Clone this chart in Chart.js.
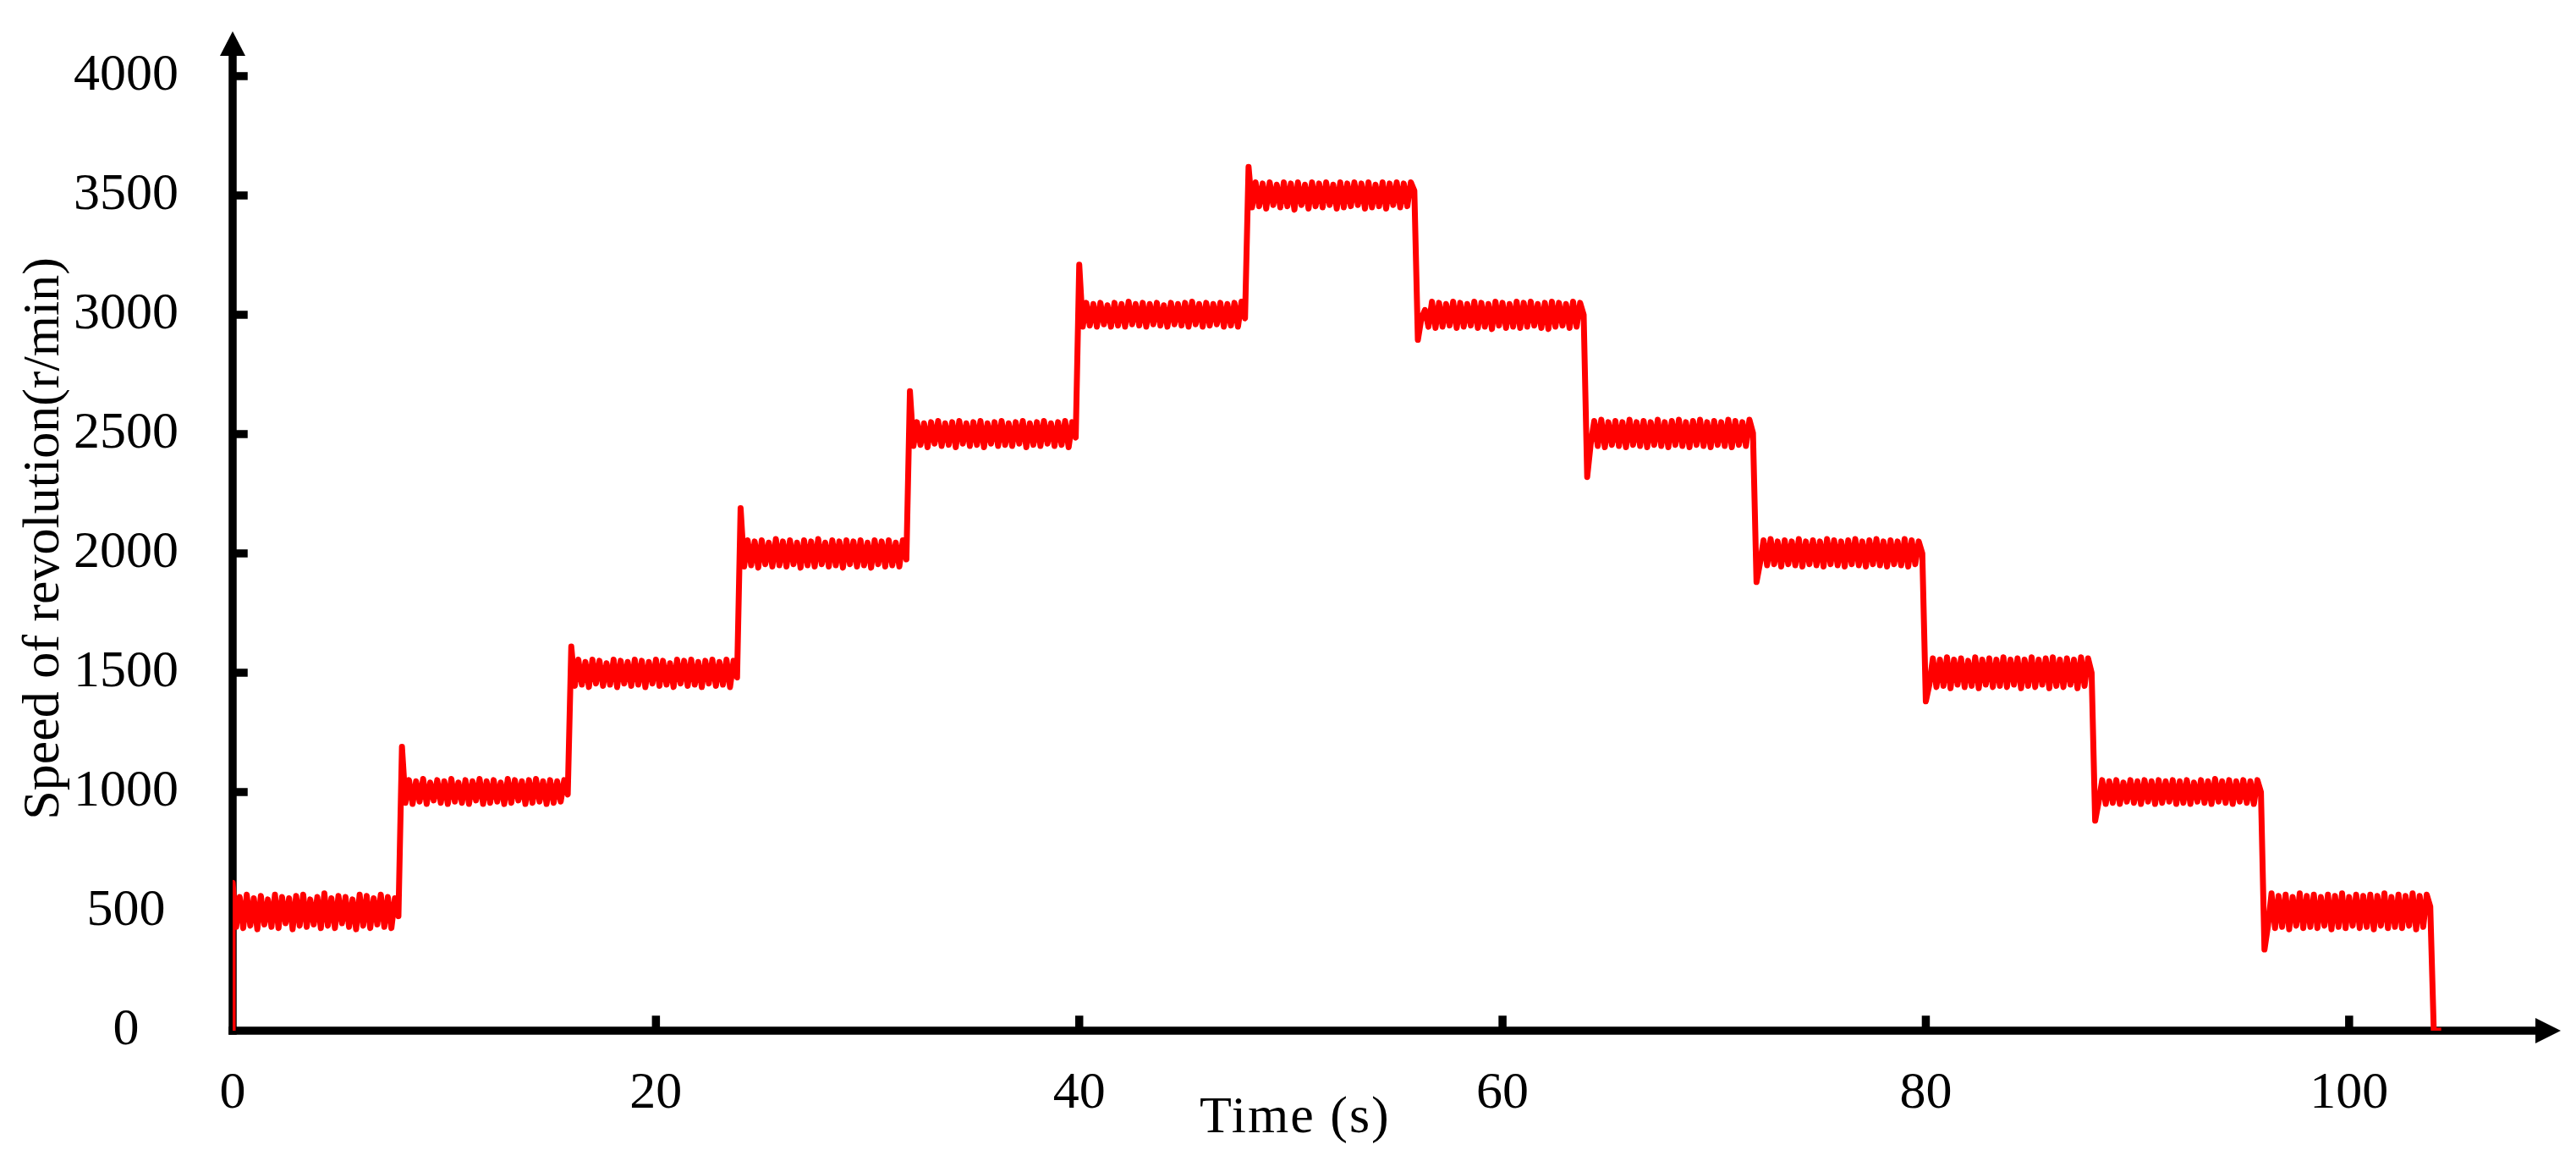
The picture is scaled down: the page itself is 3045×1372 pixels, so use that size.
<!DOCTYPE html>
<html>
<head>
    <title>Speed of revolution</title>
    <script src="https://cdn.jsdelivr.net/npm/chart.js"></script>
    <style>
        body { margin: 0; background: #ffffff; }
    </style>
</head>
<body>
<canvas id="speedChart" width="3045" height="1372"></canvas>
<script>
    // speed steps, one array per 8 s step: first value is the overshoot at the step edge
    const stepTimes = [0, 8, 16, 24, 32, 40, 48, 56, 64, 72, 80, 88, 96];
    const stepLength = 8;
    const speed00 = [620, 435, 560, 430, 570, 440, 555, 425, 565, 445, 550, 435, 570, 430, 560, 450, 555, 425, 565, 440, 570, 435, 550, 445, 560, 430, 575, 440, 555, 430, 565, 450, 560, 435, 550, 425, 570, 440, 565, 430, 555, 445, 570, 435, 560, 430, 555, 480];
    const speed08 = [1190, 955, 1050, 950, 1045, 960, 1055, 950, 1040, 965, 1050, 955, 1045, 950, 1055, 960, 1040, 955, 1050, 950, 1045, 965, 1055, 950, 1045, 955, 1050, 960, 1040, 950, 1055, 955, 1050, 965, 1045, 950, 1050, 955, 1055, 960, 1045, 950, 1050, 955, 1045, 960, 1050, 990];
    const speed16 = [1610, 1445, 1555, 1450, 1545, 1440, 1555, 1455, 1550, 1445, 1540, 1450, 1555, 1440, 1550, 1455, 1545, 1445, 1555, 1450, 1550, 1440, 1545, 1455, 1555, 1445, 1550, 1450, 1540, 1440, 1555, 1455, 1550, 1445, 1555, 1450, 1545, 1440, 1550, 1455, 1555, 1445, 1545, 1450, 1555, 1440, 1550, 1480];
    const speed24 = [2190, 1945, 2055, 1950, 2050, 1940, 2055, 1955, 2045, 1945, 2060, 1950, 2050, 1945, 2055, 1955, 2045, 1940, 2055, 1950, 2050, 1945, 2060, 1955, 2045, 1945, 2055, 1950, 2050, 1940, 2055, 1955, 2050, 1945, 2055, 1950, 2045, 1940, 2055, 1955, 2050, 1945, 2055, 1950, 2045, 1945, 2055, 1975];
    const speed32 = [2680, 2450, 2550, 2455, 2545, 2445, 2550, 2460, 2555, 2450, 2545, 2455, 2550, 2445, 2555, 2460, 2545, 2450, 2550, 2455, 2555, 2445, 2545, 2460, 2550, 2450, 2555, 2455, 2545, 2450, 2550, 2460, 2555, 2445, 2545, 2455, 2550, 2450, 2555, 2460, 2545, 2450, 2550, 2455, 2555, 2445, 2550, 2485];
    const speed40 = [3210, 2950, 3050, 2955, 3045, 2950, 3050, 2960, 3040, 2950, 3050, 2955, 3045, 2950, 3055, 2960, 3045, 2955, 3050, 2950, 3045, 2960, 3050, 2955, 3040, 2950, 3050, 2960, 3045, 2955, 3050, 2950, 3055, 2960, 3045, 2950, 3050, 2955, 3045, 2960, 3050, 2950, 3045, 2955, 3050, 2950, 3055, 2985];
    const speed48 = [3620, 3450, 3555, 3455, 3550, 3445, 3555, 3460, 3545, 3450, 3555, 3455, 3550, 3440, 3555, 3460, 3545, 3445, 3555, 3455, 3550, 3450, 3555, 3460, 3545, 3445, 3555, 3450, 3550, 3455, 3555, 3460, 3550, 3445, 3555, 3450, 3545, 3455, 3555, 3445, 3550, 3460, 3555, 3450, 3550, 3455, 3555, 3520];
    const speed56 = [2895, 2985, 3020, 2950, 3055, 2945, 3050, 2950, 3045, 2955, 3055, 2945, 3050, 2950, 3045, 2955, 3055, 2945, 3050, 2950, 3045, 2940, 3055, 2955, 3050, 2945, 3045, 2950, 3055, 2945, 3050, 2950, 3055, 2955, 3045, 2945, 3050, 2940, 3055, 2950, 3050, 2955, 3045, 2945, 3055, 2950, 3050, 3000];
    const speed64 = [2320, 2460, 2555, 2450, 2560, 2445, 2550, 2455, 2555, 2450, 2550, 2445, 2560, 2455, 2550, 2450, 2555, 2445, 2550, 2455, 2560, 2450, 2550, 2445, 2555, 2455, 2560, 2450, 2550, 2445, 2555, 2455, 2560, 2450, 2550, 2445, 2555, 2455, 2550, 2450, 2560, 2445, 2555, 2455, 2550, 2450, 2560, 2505];
    const speed72 = [1880, 1960, 2055, 1950, 2060, 1955, 2050, 1945, 2055, 1955, 2050, 1950, 2060, 1945, 2050, 1955, 2055, 1950, 2050, 1945, 2060, 1955, 2055, 1950, 2050, 1945, 2055, 1955, 2060, 1950, 2050, 1945, 2055, 1955, 2060, 1950, 2050, 1945, 2055, 1955, 2050, 1950, 2060, 1945, 2055, 1955, 2050, 2000];
    const speed80 = [1380, 1450, 1560, 1440, 1555, 1445, 1565, 1435, 1555, 1450, 1560, 1440, 1550, 1445, 1565, 1435, 1555, 1450, 1560, 1440, 1555, 1445, 1565, 1440, 1555, 1450, 1560, 1435, 1555, 1445, 1565, 1440, 1555, 1450, 1560, 1435, 1565, 1445, 1555, 1440, 1560, 1450, 1555, 1435, 1565, 1445, 1560, 1500];
    const speed88 = [880, 960, 1050, 950, 1045, 955, 1050, 950, 1040, 960, 1050, 955, 1045, 950, 1050, 960, 1045, 950, 1050, 955, 1045, 960, 1050, 950, 1045, 955, 1050, 950, 1040, 960, 1050, 955, 1045, 950, 1055, 960, 1045, 955, 1050, 950, 1045, 960, 1050, 955, 1045, 950, 1050, 1000];
    const speed96 = [340, 440, 575, 430, 565, 435, 570, 425, 560, 440, 575, 430, 565, 435, 570, 430, 560, 440, 570, 425, 565, 435, 575, 430, 560, 440, 570, 430, 565, 435, 570, 425, 565, 440, 575, 430, 560, 435, 570, 430, 565, 440, 575, 425, 565, 435, 570, 520];
    const stepSpeeds = [speed00, speed08, speed16, speed24, speed32, speed40, speed48, speed56, speed64, speed72, speed80, speed88, speed96];
    const startTimes = [0];
    const startSpeeds = [0];
    const stopTimes = [104, 104.35];
    const stopSpeeds = [0, 0];
    const xTicks = [0, 20, 40, 60, 80, 100];
    const yTicks = [0, 500, 1000, 1500, 2000, 2500, 3000, 3500, 4000];

    const points = [];
    startTimes.forEach((t, i) => points.push({x: t, y: startSpeeds[i]}));
    stepTimes.forEach((t0, k) => {
        const vals = stepSpeeds[k];
        const dt = stepLength / vals.length;
        vals.forEach((v, j) => points.push({x: t0 + j * dt, y: v}));
    });
    stopTimes.forEach((t, i) => points.push({x: t, y: stopSpeeds[i]}));

    const serif = 'Liberation Serif';

    // black axes with arrows and inward ticks, drawn under the red line
    const axesPlugin = {
        id: 'axes',
        beforeDatasetsDraw(chart) {
            const ctx = chart.ctx;
            const xs = chart.scales.x;
            const ys = chart.scales.y;
            const x0 = xs.getPixelForValue(0);
            const y0 = ys.getPixelForValue(0);
            const w = 9.5;
            ctx.save();
            ctx.fillStyle = '#000';
            ctx.strokeStyle = '#000';
            ctx.lineWidth = w;
            ctx.lineCap = 'butt';
            // y axis
            ctx.beginPath();
            ctx.moveTo(x0, y0 + w / 2);
            ctx.lineTo(x0, 64);
            ctx.stroke();
            ctx.beginPath();
            ctx.moveTo(x0, 37);
            ctx.lineTo(x0 - 15, 66);
            ctx.lineTo(x0 + 15, 66);
            ctx.closePath();
            ctx.fill();
            // x axis
            ctx.beginPath();
            ctx.moveTo(x0 - w / 2, y0);
            ctx.lineTo(2999, y0);
            ctx.stroke();
            ctx.beginPath();
            ctx.moveTo(3027, y0);
            ctx.lineTo(2997, y0 - 15);
            ctx.lineTo(2997, y0 + 15);
            ctx.closePath();
            ctx.fill();
            // ticks
            yTicks.slice(1).forEach(v => {
                const p = ys.getPixelForValue(v);
                ctx.beginPath();
                ctx.moveTo(x0, p);
                ctx.lineTo(x0 + w / 2 + 13, p);
                ctx.stroke();
            });
            xTicks.slice(1).forEach(v => {
                const p = xs.getPixelForValue(v);
                ctx.beginPath();
                ctx.moveTo(p, y0);
                ctx.lineTo(p, y0 - w / 2 - 13);
                ctx.stroke();
            });
            // x axis title
            ctx.font = '62px "' + serif + '"';
            ctx.letterSpacing = '2px';
            ctx.textAlign = 'center';
            ctx.textBaseline = 'alphabetic';
            ctx.fillText('Time (s)', xs.getPixelForValue(50.2), 1338);
            ctx.restore();
        }
    };

    new Chart(document.getElementById('speedChart').getContext('2d'), {
        type: 'line',
        data: {
            datasets: [{
                data: points,
                borderColor: '#ff0000',
                borderWidth: 7,
                borderJoinStyle: 'round',
                pointRadius: 0,
                tension: 0,
                fill: false
            }]
        },
        options: {
            responsive: false,
            animation: false,
            events: [],
            layout: { padding: { left: 0, right: 18, top: 55, bottom: 0 } },
            plugins: { legend: { display: false }, tooltip: { enabled: false } },
            scales: {
                x: {
                    type: 'linear',
                    min: 0,
                    max: 110,
                    afterFit: s => { s.height = 154; },
                    afterBuildTicks: s => { s.ticks = xTicks.map(v => ({value: v})); },
                    grid: { display: false },
                    border: { display: false },
                    ticks: {
                        color: '#000',
                        padding: 30,
                        maxRotation: 0,
                        autoSkip: false,
                        callback: v => String(v),
                        font: { family: serif, size: 62 }
                    }
                },
                y: {
                    min: 0,
                    max: 4124,
                    afterFit: s => {
                        s.width = 275;
                        s.paddingTop = 0;
                        s.paddingBottom = 0;
                    },
                    afterBuildTicks: s => { s.ticks = yTicks.map(v => ({value: v})); },
                    grid: { display: false },
                    border: { display: false },
                    ticks: {
                        color: '#000',
                        padding: 56,
                        crossAlign: 'center',
                        autoSkip: false,
                        callback: v => String(v),
                        font: { family: serif, size: 62 }
                    },
                    title: {
                        display: true,
                        text: 'Speed of revolution(r/min)',
                        color: '#000',
                        padding: { top: 16, bottom: 0 },
                        font: { family: serif, size: 62 }
                    }
                }
            }
        },
        plugins: [axesPlugin]
    });
</script>
</body>
</html>
